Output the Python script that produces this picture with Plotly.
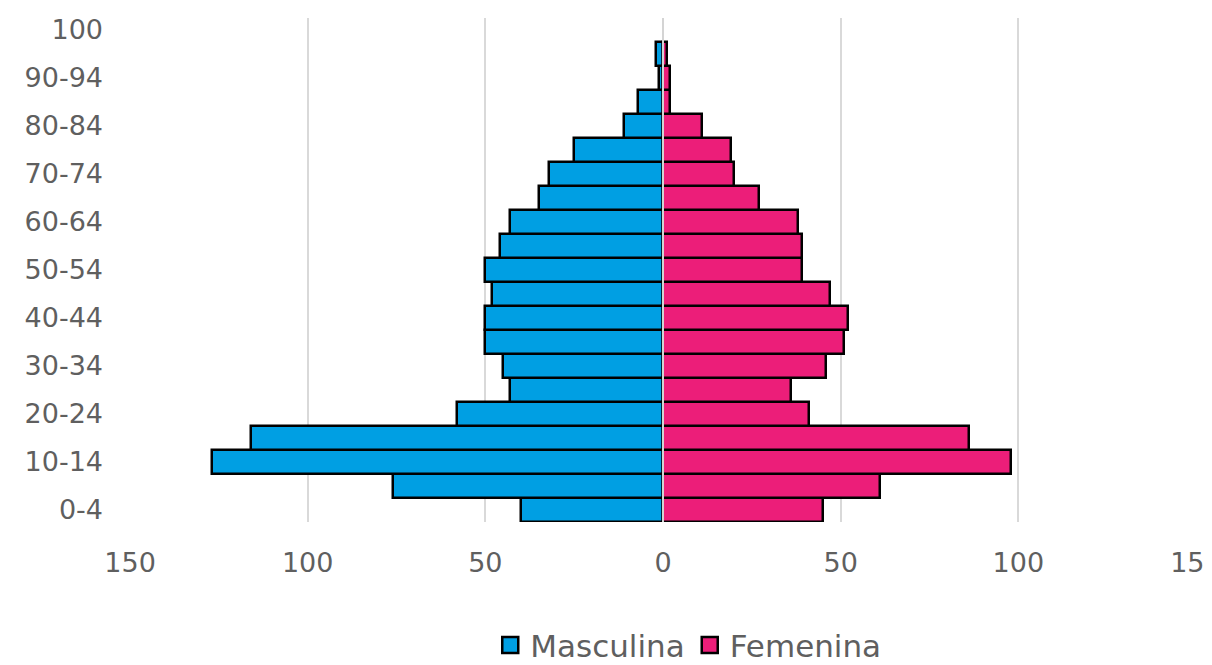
import plotly.graph_objects as go

age_groups = ["0-4", "5-9", "10-14", "15-19", "20-24", "25-29", "30-34", "35-39",
              "40-44", "45-49", "50-54", "55-59", "60-64", "65-69", "70-74", "75-79",
              "80-84", "85-89", "90-94", "95-99", "100"]
# the "100" group has no visible bar in the reference
masculina = [40, 76, 127, 116, 58, 43, 45, 50, 50, 48, 50, 46, 43, 35, 32, 25, 11, 7, 1, 2, None]
femenina = [45, 61, 98, 86, 41, 36, 46, 51, 52, 47, 39, 39, 38, 27, 20, 19, 11, 2, 2, 1, None]
shown_labels = ["0-4", "10-14", "20-24", "30-34", "40-44", "50-54", "60-64",
                "70-74", "80-84", "90-94", "100"]
x_ticks = [-150, -100, -50, 0, 50, 100, 150]
x_tick_text = ["150", "100", "50", "0", "50", "100", "150"]

FONT = "DejaVu Sans"
GRAY = "#5f5f5f"
BLUE = "#009FE3"
PINK = "#EC1E79"

fig = go.Figure()
fig.add_trace(go.Bar(
    y=age_groups, x=[None if v is None else -v for v in masculina], orientation="h",
    name="Masculina",
    marker=dict(color=BLUE, line=dict(color="#000000", width=2.5)), showlegend=False,
))
fig.add_trace(go.Bar(
    y=age_groups, x=femenina, orientation="h", name="Femenina",
    marker=dict(color=PINK, line=dict(color="#000000", width=2.5)), showlegend=False,
))
# legend entries with larger square swatches
for name, col in [("Masculina", BLUE), ("Femenina", PINK)]:
    fig.add_trace(go.Scatter(
        x=[None], y=[None], mode="markers", name=name,
        marker=dict(symbol="square", size=18, color=col, line=dict(color="#000000", width=2.5)),
    ))

fig.add_shape(type="line", xref="x", yref="paper", x0=0, x1=0, y0=0, y1=1,
              line=dict(color="#d4d4d4", width=2), layer="above")

fig.update_layout(
    width=1204, height=657,
    margin=dict(l=122, r=16, t=10, b=143),
    barmode="relative", bargap=0,
    plot_bgcolor="white", paper_bgcolor="white",
    font=dict(family=FONT, color=GRAY, size=27),
    showlegend=True,
    legend=dict(orientation="h", xref="container", yref="container",
                x=0.565, xanchor="center", y=0.03, yanchor="middle",
                font=dict(family=FONT, size=31, color=GRAY),
                itemwidth=30, tracegroupgap=0),
    xaxis=dict(range=[-150.01, 150.01], tickvals=x_ticks, ticktext=x_tick_text,
               showgrid=True, gridcolor="#d9d9d9", gridwidth=2,
               zeroline=False, showline=False, ticks="", automargin=False,
               ticklabelstandoff=22, ticklabeloverflow="allow",
               tickfont=dict(family=FONT, size=27, color=GRAY)),
    yaxis=dict(type="category", categoryorder="array", categoryarray=age_groups,
               tickvals=shown_labels, ticktext=shown_labels,
               showgrid=False, zeroline=False, showline=False, ticks="",
               automargin=False, ticklabelstandoff=26,
               tickfont=dict(family=FONT, size=27, color=GRAY)),
)

fig.write_html("out.html")
